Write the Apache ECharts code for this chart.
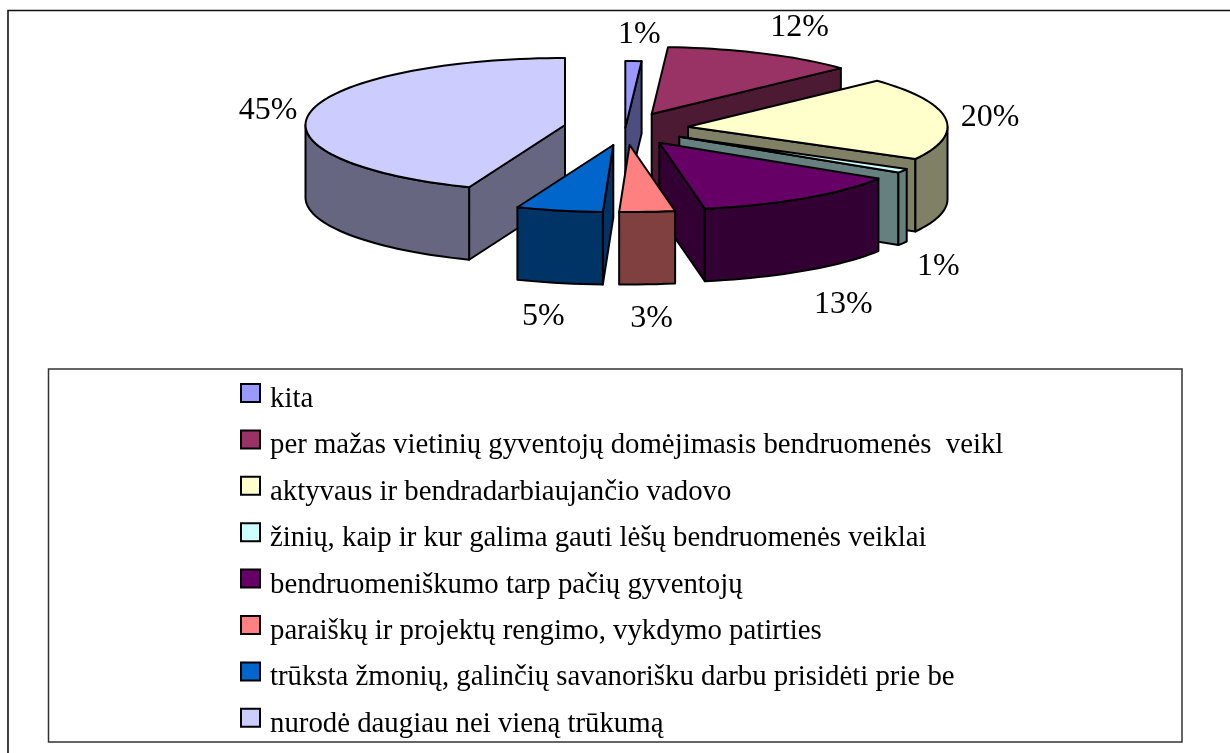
<!DOCTYPE html>
<html>
<head>
<meta charset="utf-8">
<style>html,body{margin:0;padding:0;background:#fff}#c{width:1230px;height:753px}</style>
<script src="https://cdn.jsdelivr.net/npm/echarts@6/dist/echarts.min.js"></script>
</head>
<body>
<div id="c"></div>
<script>
// ---- data ----
const categories = [
  'kita',
  'per mažas vietinių gyventojų domėjimasis bendruomenės  veikl',
  'aktyvaus ir bendradarbiaujančio vadovo',
  'žinių, kaip ir kur galima gauti lėšų bendruomenės veiklai',
  'bendruomeniškumo tarp pačių gyventojų',
  'paraiškų ir projektų rengimo, vykdymo patirties',
  'trūksta žmonių, galinčių savanorišku darbu prisidėti prie be',
  'nurodė daugiau nei vieną trūkumą'
];
const shares = [1, 12, 20, 1, 13, 3, 5, 45];

// ---- styles ----
const topColors  = ['#9999FF','#993366','#FFFFCC','#CCFFFF','#660066','#FF8080','#0066CC','#CCCCFF'];
const wallColors = ['#4D4D80','#4D1A33','#808066','#668080','#330033','#804040','#003366','#666680'];

// ---- layout of the exploded 3D pie (separate from the data) ----
const RX = 259.5, RY = 67, DEPTH = 72.5;
const apexX = [625.3, 651.7, 688, 679.3, 659.3, 629.6, 613.3, 565];
const apexY = [128, 114, 126.7, 136.7, 142.7, 145, 145, 125];
const labelDX = [14, 148, 302, 259, 184, 22, -70, -297];
const labelDY = [-93, -86, -9, 130, 162, 174, 172, -14];
const drawZ = [3, 2, 4, 5, 6, 7, 8, 1];

// the original's perspective stretches the angles slightly at the front left
function warp(deg) {
  const u = (deg - 165) / 70;
  return deg + (u > 0 && u < 1 ? 3.7 * Math.sin(u * Math.PI) : 0);
}
function rim(i, deg, drop) {
  const r = warp(deg) * Math.PI / 180;
  return [apexX[i] + RX * Math.sin(r), apexY[i] - RY * Math.cos(r) + drop];
}
const total = shares.reduce((a, b) => a + b, 0);
const startDeg = shares.map((_, i) => shares.slice(0, i).reduce((a, b) => a + b, 0) / total * 360);

function renderSlice(i, params, api) {
  const t0 = startDeg[i];
  const t1 = t0 + api.value(0) / total * 360;
  const line = { stroke: '#000', lineWidth: 2, lineJoin: 'round' };
  const A = [apexX[i], apexY[i]], B = [apexX[i], apexY[i] + DEPTH];
  const children = [];
  const poly = (points, fill) => children.push({
    type: 'polygon', shape: { points }, style: Object.assign({ fill }, line)
  });
  const arc = (a, b, drop) => {
    const n = Math.max(2, Math.ceil((b - a) / 2)), p = [];
    for (let k = 0; k <= n; k++) p.push(rim(i, a + (b - a) * k / n, drop));
    return p;
  };
  const wa0 = warp(t0), wa1 = warp(t1);
  // radial wall at the slice's end edge, if it faces the viewer
  if (Math.sin(wa1 * Math.PI / 180) > 0.001) {
    poly([A, rim(i, t1, 0), rim(i, t1, DEPTH), B], wallColors[i]);
  }
  // radial wall at the slice's start edge, if it faces the viewer
  if (Math.sin(wa0 * Math.PI / 180) < -0.001) {
    poly([A, rim(i, t0, 0), rim(i, t0, DEPTH), B], wallColors[i]);
  }
  // outer wall: only the front half of the rim
  const a = Math.max(t0, 90), b = Math.min(t1, 270);
  if (b > a) {
    poly(arc(a, b, 0).concat(arc(a, b, DEPTH).reverse()), wallColors[i]);
  }
  // top face
  poly([A].concat(arc(t0, t1, 0)), topColors[i]);
  // value label
  children.push({
    type: 'text',
    style: {
      text: shares[i] + '%',
      x: apexX[i] + labelDX[i], y: apexY[i] + labelDY[i],
      fill: '#000', align: 'center', verticalAlign: 'middle',
      font: '32px "Liberation Serif"'
    }
  });
  return { type: 'group', children };
}

const chart = echarts.init(document.getElementById('c'), null, { renderer: 'canvas' });
chart.setOption({
  animation: false,
  backgroundColor: '#fff',
  graphic: [
    { type: 'polyline', silent: true, z: 0, shape: { points: [[8, 760], [8, 10.5], [1230, 10.5]] },
      style: { fill: null, stroke: '#111', lineWidth: 1.6 } },
    { type: 'rect', silent: true, z: 0, shape: { x: 48.5, y: 369, width: 1133.5, height: 373 },
      style: { fill: '#fff', stroke: '#333', lineWidth: 1.5 } }
  ],
  legend: {
    orient: 'vertical', left: 240, top: 383, height: 365,
    itemWidth: 19, itemHeight: 31, itemGap: 13.4,
    selectedMode: false,
    // square swatch sitting in the upper part of the item box, above the text's centre
    icon: 'path://M0 0H19V18H0Z M0 31L0 31',
    padding: 0,
    data: categories,
    itemStyle: { borderColor: '#000', borderWidth: 2 },
    textStyle: { fontFamily: 'Liberation Serif', fontSize: 28.8, color: '#000', padding: [0, 0, 0, 5] }
  },
  series: categories.map((name, i) => ({
    type: 'custom',
    name,
    coordinateSystem: 'none',
    z: 2 + drawZ[i],
    silent: true,
    itemStyle: { color: topColors[i] },
    data: [{ name, value: [shares[i]] }],
    renderItem: (params, api) => renderSlice(i, params, api)
  }))
});
</script>
</body>
</html>
